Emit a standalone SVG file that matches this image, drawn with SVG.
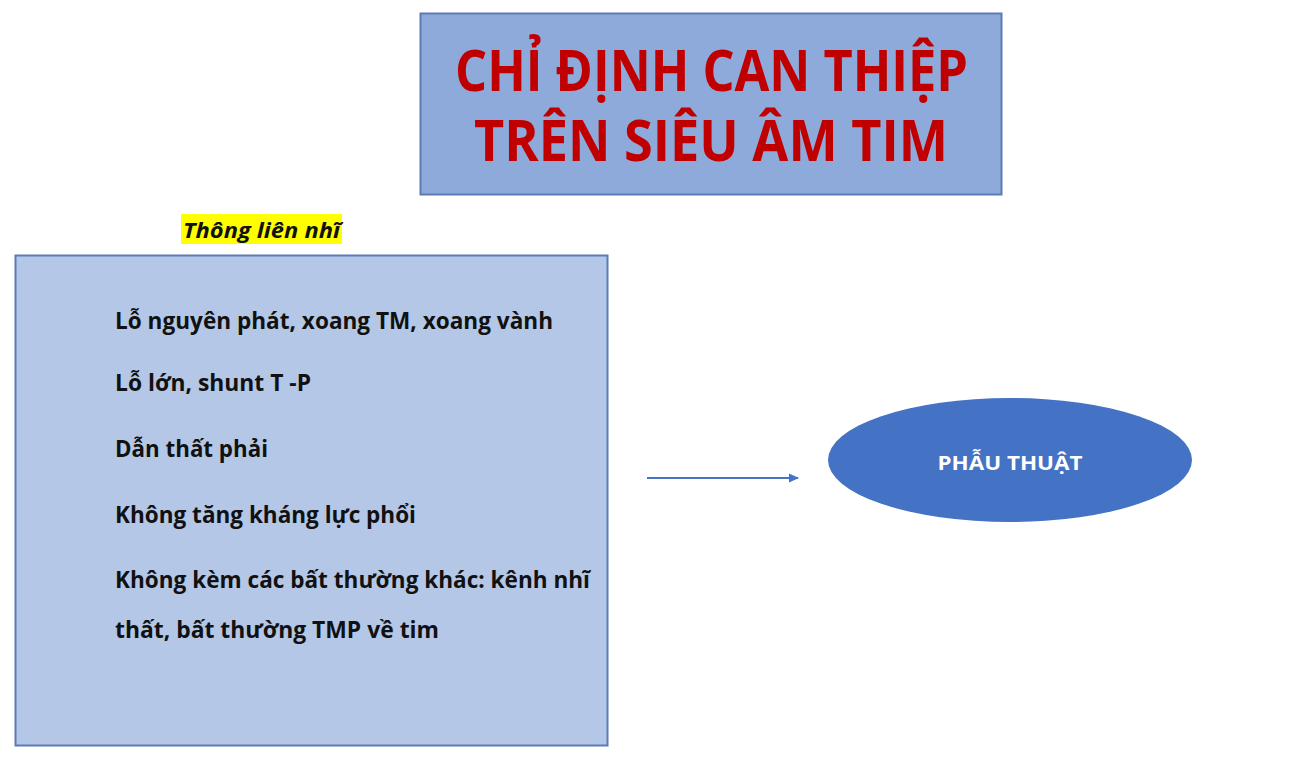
<svg xmlns="http://www.w3.org/2000/svg" width="1305" height="768" viewBox="0 0 1305 768">
<style>
.t{font-family:"Open Sans","Liberation Sans","Noto Sans",Arial,sans-serif;font-weight:bold}
.title{fill:#c00000;font-size:57px}
.item{fill:#111;font-size:23px}
</style>
<defs>
<marker id="arr" markerWidth="12" markerHeight="12" refX="9" refY="6" orient="auto" markerUnits="userSpaceOnUse">
<path d="M0,1.500 L10,6 L0,10.500 Z" fill="#4472c4"/>
</marker>
</defs>
<rect width="1305" height="768" fill="#fff"/>
<g id="title">
<rect x="420.500" y="13.500" width="581" height="181" fill="#8eaadb" stroke="#5a7bb5" stroke-width="2"/>
<text class="t title" x="455" y="91" textLength="513" lengthAdjust="spacingAndGlyphs">CHỈ ĐỊNH CAN THIỆP</text>
<text class="t title" x="474" y="161" textLength="474" lengthAdjust="spacingAndGlyphs">TRÊN SIÊU ÂM TIM</text>
</g>
<g id="label">
<rect x="181" y="214" width="161" height="30" fill="#ffff00"/>
<text class="t" x="183" y="238" font-size="21" font-style="italic" fill="#111" textLength="157" lengthAdjust="spacingAndGlyphs">Thông liên nhĩ</text>
</g>
<g id="criteria">
<rect x="15.500" y="255.500" width="592" height="490" fill="#b4c7e7" stroke="#5a7bb5" stroke-width="2"/>
<text class="t item" x="115" y="329" textLength="438" lengthAdjust="spacingAndGlyphs">Lỗ nguyên phát, xoang TM, xoang vành</text>
<text class="t item" x="115" y="391" textLength="196" lengthAdjust="spacingAndGlyphs">Lỗ lớn, shunt T -P</text>
<text class="t item" x="115" y="457" textLength="153" lengthAdjust="spacingAndGlyphs">Dẫn thất phải</text>
<text class="t item" x="115" y="523" textLength="301" lengthAdjust="spacingAndGlyphs">Không tăng kháng lực phổi</text>
<text class="t item" x="115" y="588" textLength="475" lengthAdjust="spacingAndGlyphs">Không kèm các bất thường khác: kênh nhĩ</text>
<text class="t item" x="115" y="638" textLength="324" lengthAdjust="spacingAndGlyphs">thất, bất thường TMP về tim</text>
</g>
<g id="connectors">
<line x1="647" y1="478" x2="798" y2="478" stroke="#4472c4" stroke-width="2" marker-end="url(#arr)"/>
</g>
<g id="surgery">
<ellipse cx="1010" cy="460" rx="182" ry="62" fill="#4472c4"/>
<text class="t" x="1010" y="470" font-size="20" fill="#fff" text-anchor="middle" textLength="145" lengthAdjust="spacingAndGlyphs">PHẪU THUẬT</text>
</g>
</svg>
